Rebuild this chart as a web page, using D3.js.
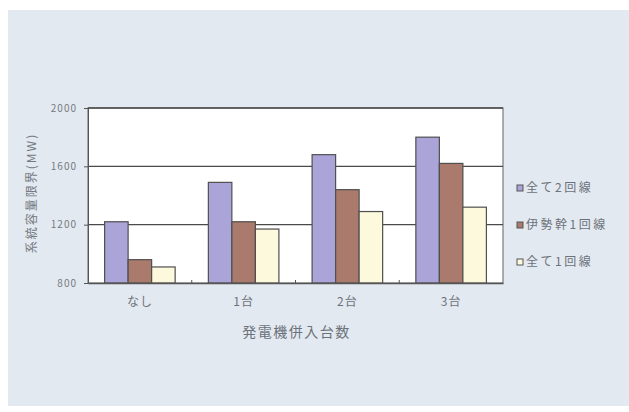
<!DOCTYPE html>
<html lang="ja">
<head>
    <meta charset="UTF-8">
    <title>系統容量限界</title>
    <style>
        body { margin: 0; background: #ffffff; }
        text { font-family: "Noto Sans CJK JP", "Noto Sans", sans-serif; }
    </style>
</head>
<body>
    <script src="https://d3js.org/d3.v7.min.js"></script>
    <script>
        // Chart data
        let categories = ["なし", "1台", "2台", "3台"];
        let seriesNames = ["全て2回線", "伊勢幹1回線", "全て1回線"];
        let allTwo = [1220, 1490, 1680, 1800];
        let iseOne = [960, 1220, 1440, 1620];
        let allOne = [910, 1170, 1290, 1320];
        let yTicks = [800, 1200, 1600, 2000];
        let seriesValues = [allTwo, iseOne, allOne];
        let colors = ["#aaa4d8", "#aa7a6c", "#fdf9dc"];

        let svgWidth = 629;
        let svgHeight = 412;

        let margin = { top: 108, right: 126, bottom: 129, left: 88 };
        let chartWidth = svgWidth - margin.left - margin.right;
        let chartHeight = svgHeight - margin.top - margin.bottom;

        let svg = d3.select("body")
            .append("svg")
            .attr("width", svgWidth)
            .attr("height", svgHeight);

        // light panel behind the chart
        svg.append("rect")
            .attr("x", 8).attr("y", 10)
            .attr("width", 621).attr("height", 396)
            .attr("fill", "#e3e9f0");

        let chartGroup = svg.append("g")
            .attr("transform", `translate(${margin.left}, ${margin.top})`);

        let xScale = d3.scaleBand()
            .domain(categories)
            .range([0, chartWidth])
            .paddingInner(0.32)
            .paddingOuter(0.16);

        let xInner = d3.scaleBand()
            .domain(seriesNames)
            .range([0, xScale.bandwidth()]);

        let yScale = d3.scaleLinear()
            .domain([800, 2000])
            .range([chartHeight, 0]);

        // plot area
        chartGroup.append("rect")
            .attr("width", chartWidth)
            .attr("height", chartHeight)
            .attr("fill", "#ffffff")
            .attr("stroke", "#7a7a7a")
            .attr("stroke-width", 1.2);

        // gridlines
        chartGroup.selectAll(".grid")
            .data(yTicks.slice(1))
            .enter()
            .append("line")
            .attr("x1", 0)
            .attr("x2", chartWidth)
            .attr("y1", d => yScale(d))
            .attr("y2", d => yScale(d))
            .attr("stroke", "#4a4a4a")
            .attr("stroke-width", 1.3);

        // bars
        let groups = chartGroup.selectAll(".group")
            .data(categories)
            .enter()
            .append("g")
            .attr("transform", d => `translate(${xScale(d)}, 0)`);

        groups.selectAll("rect")
            .data((d, i) => seriesNames.map((s, j) => ({ s: s, j: j, v: seriesValues[j][i] })))
            .enter()
            .append("rect")
            .attr("x", d => xInner(d.s))
            .attr("y", d => yScale(d.v))
            .attr("width", xInner.bandwidth())
            .attr("height", d => chartHeight - yScale(d.v))
            .attr("fill", d => colors[d.j])
            .attr("stroke", "#4f4f4f")
            .attr("stroke-width", 1.2);

        // y axis
        let yAxis = d3.axisLeft(yScale).tickValues(yTicks).tickSize(4).tickFormat(d3.format("d"));
        let yG = chartGroup.append("g").call(yAxis);
        yG.select(".domain").attr("stroke", "#555");
        yG.selectAll(".tick line").attr("stroke", "#555");
        yG.selectAll("text")
            .attr("x", -11)
            .attr("fill", "#747a82")
            .style("font-size", "10px")
            .style("letter-spacing", "1px");

        // x axis, ticks between groups
        let xAxis = d3.axisBottom(xScale).tickSize(0).tickPadding(14);
        let xG = chartGroup.append("g")
            .attr("transform", `translate(0, ${chartHeight})`)
            .call(xAxis);
        xG.select(".domain").attr("stroke", "#555").attr("stroke-width", 1.3);
        xG.selectAll("text")
            .attr("fill", "#6c727a")
            .style("font-size", "12px")
            .style("letter-spacing", "1px");

        let step = xScale.step();
        chartGroup.selectAll(".sep")
            .data(categories.slice(1))
            .enter()
            .append("line")
            .attr("x1", d => xScale(d) - xScale.paddingInner() * step / 2)
            .attr("x2", d => xScale(d) - xScale.paddingInner() * step / 2)
            .attr("y1", chartHeight)
            .attr("y2", chartHeight - 3)
            .attr("stroke", "#555");

        // axis titles
        chartGroup.append("text")
            .attr("x", chartWidth / 2 + 1)
            .attr("y", chartHeight + 54)
            .attr("text-anchor", "middle")
            .attr("fill", "#6c727a")
            .style("font-size", "14px")
            .style("letter-spacing", "1.5px")
            .text("発電機併入台数");

        chartGroup.append("text")
            .attr("transform", "rotate(-90)")
            .attr("x", -(194 - margin.top) + 1)
            .attr("y", 32 - margin.left)
            .attr("dy", "0.35em")
            .attr("text-anchor", "middle")
            .attr("fill", "#747a82")
            .style("font-size", "12px")
            .style("letter-spacing", "2px")
            .text("系統容量限界(MW)");

        // legend
        let legend = svg.append("g")
            .attr("transform", "translate(517, 188)");

        let rows = legend.selectAll(".row")
            .data(seriesNames)
            .enter()
            .append("g")
            .attr("transform", (d, i) => `translate(0, ${i * 37})`);

        rows.append("rect")
            .attr("x", 0).attr("y", -3)
            .attr("width", 6).attr("height", 6)
            .attr("fill", (d, i) => colors[i])
            .attr("stroke", "#555");

        rows.append("text")
            .attr("x", 9)
            .attr("y", 0)
            .attr("dy", "0.35em")
            .attr("fill", "#6c727a")
            .style("font-size", "12px")
            .style("letter-spacing", "2.5px")
            .text(d => d);
    </script>
</body>
</html>
